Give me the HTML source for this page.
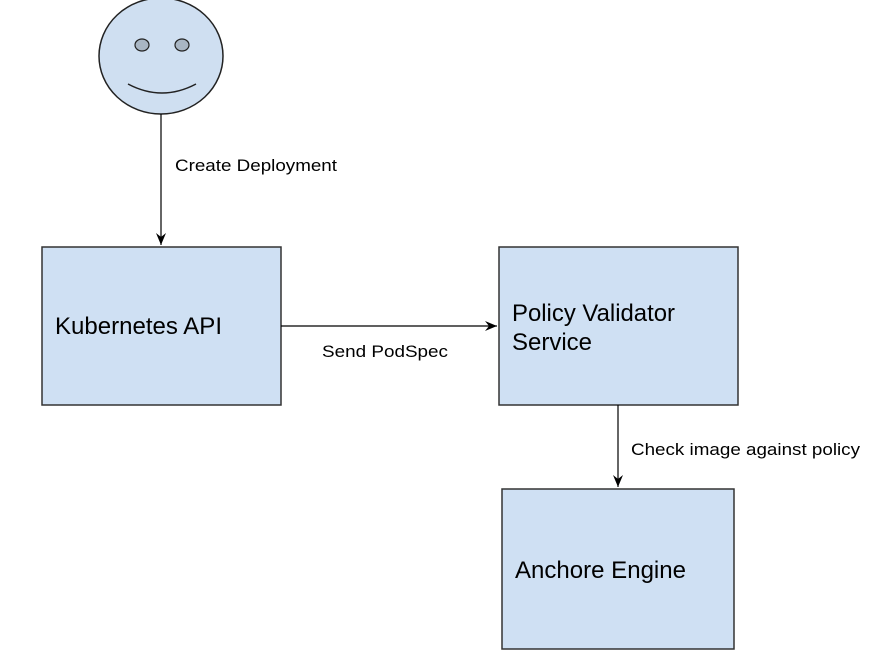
<!DOCTYPE html>
<html><head><style>body{margin:0;background:#fff}svg{display:block}</style></head><body>
<svg width="892" height="654" viewBox="0 0 892 654" font-family="Liberation Sans, sans-serif">
<defs><marker id="a" markerWidth="14" markerHeight="14" refX="12" refY="6" orient="auto" markerUnits="userSpaceOnUse"><path d="M0,1 L12,6 L0,11 L4,6 Z" fill="#000"/></marker></defs>
<ellipse cx="161" cy="56" rx="62" ry="58" fill="#cfdff1" stroke="#222" stroke-width="1.5"/>
<ellipse cx="142" cy="45" rx="7" ry="6" fill="#a9b6c4" stroke="#222" stroke-width="1.2"/>
<ellipse cx="182" cy="45" rx="7" ry="6" fill="#a9b6c4" stroke="#222" stroke-width="1.2"/>
<path d="M128,84 Q162,102 196,84" fill="none" stroke="#222" stroke-width="1.5"/>
<line x1="161" y1="114" x2="161" y2="245" stroke="#000" stroke-width="1.2" marker-end="url(#a)"/>
<text x="175" y="171" font-size="17" textLength="162" lengthAdjust="spacingAndGlyphs">Create Deployment</text>
<rect x="42" y="247" width="239" height="158" fill="#cfe0f3" stroke="#333" stroke-width="1.5"/>
<text x="55" y="334" font-size="24" textLength="167" lengthAdjust="spacingAndGlyphs">Kubernetes API</text>
<line x1="281" y1="326" x2="497" y2="326" stroke="#000" stroke-width="1.2" marker-end="url(#a)"/>
<text x="322" y="357" font-size="17" textLength="126" lengthAdjust="spacingAndGlyphs">Send PodSpec</text>
<rect x="499" y="247" width="239" height="158" fill="#cfe0f3" stroke="#333" stroke-width="1.5"/>
<text x="512" y="321" font-size="24" textLength="163" lengthAdjust="spacingAndGlyphs">Policy Validator</text>
<text x="512" y="350" font-size="24">Service</text>
<line x1="618" y1="405" x2="618" y2="487" stroke="#000" stroke-width="1.2" marker-end="url(#a)"/>
<text x="631" y="455" font-size="17" textLength="229" lengthAdjust="spacingAndGlyphs">Check image against policy</text>
<rect x="502" y="489" width="232" height="160" fill="#cfe0f3" stroke="#333" stroke-width="1.5"/>
<text x="515" y="578" font-size="24" textLength="171" lengthAdjust="spacingAndGlyphs">Anchore Engine</text>
</svg>
</body></html>
